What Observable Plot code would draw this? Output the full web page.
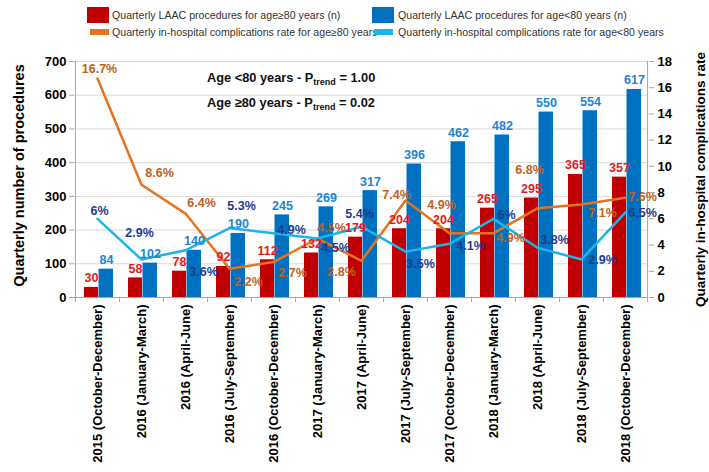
<!DOCTYPE html>
<html><head><meta charset="utf-8">
<script src="https://cdn.jsdelivr.net/npm/d3@7"></script>
<script src="https://cdn.jsdelivr.net/npm/@observablehq/plot@0.6"></script>
<style>
body{margin:0;background:#fff;font-family:"Liberation Sans",Arial,sans-serif;}
#wrap{position:relative;width:709px;height:472px;overflow:hidden;}
#legend{position:relative;height:48px;}
.sw{position:absolute;}
.lt{position:absolute;font-family:"Liberation Sans",Arial,sans-serif;font-size:10.6px;color:#333;white-space:nowrap;line-height:12px;}
.ann{position:absolute;font-weight:bold;font-size:12.8px;color:#111;white-space:nowrap;font-family:"Liberation Sans",Arial,sans-serif;line-height:16px;}
.ann sub{font-size:9px;vertical-align:-3px;line-height:0;}
</style></head><body>
<div id="wrap">
<div id="legend"></div>
<div id="chart"></div>
</div>
<script>
// ---- data ----
const categories = ["2015 (October-December)","2016 (January-March)","2016 (April-June)","2016 (July-September)","2016 (October-December)","2017 (January-March)","2017 (April-June)","2017 (July-September)","2017 (October-December)","2018 (January-March)","2018 (April-June)","2018 (July-September)","2018 (October-December)"];
const procAge80plus = [30,58,78,92,112,132,179,204,204,265,295,365,357];
const procAgeUnder80 = [84,102,140,190,245,269,317,396,462,482,550,554,617];
const rateAge80plus = [16.7,8.6,6.4,2.2,2.7,4.5,2.8,7.4,4.9,4.9,6.8,7.1,7.6];
const rateAgeUnder80 = [6,2.9,3.6,5.3,4.9,4.5,5.4,3.5,4.1,6,3.8,2.9,6.5];
const leftTicks = [0,100,200,300,400,500,600,700];
const rightTicks = [0,2,4,6,8,10,12,14,16,18];
const legendLabels = ["Quarterly LAAC procedures for age\u226580 years (n)","Quarterly LAAC procedures for age<80 years (n)","Quarterly in-hospital complications rate for age\u226580 years","Quarterly in-hospital complications rate for age<80 years"];
const leftTitle = "Quarterly number of procedures";
const rightTitle = "Quarterly in-hospital complications rate";
const pTrendLines = [["Age <80 years - P","trend"," = 1.00"],["Age \u226580 years - P","trend"," = 0.02"]];

// ---- label layout (pixel nudges) ----
const oldRateLabelOffset = [[2,-10],[18,-12],[16,-11],[19,13],[19,11],[14,-11],[-20,11],[-9,-5],[-8,-28],[17,5],[-8,-38],[21,9],[17,-1]];
const youngRateLabelOffset = [[2,-8],[-2,-26],[18,22],[12,-22],[18,-3],[18,9],[-2,-13],[15,12],[21,2],[13,-4],[17,-8],[21,1],[17,1]];

// ---- colours ----
const C = {redBar:"#c00000", blueBar:"#0070c0", orange:"#e8731e", lightBlue:"#1cb4ec",
  redText:"#e31b23", blueText:"#2185d0", orangeText:"#c2611d", navyText:"#1f3b8f", axis:"#a6a6a6", grid:"#d9d9d9"};

// ---- legend ----
const legend = document.getElementById("legend");
const legendItems = [
  {label:legendLabels[0], color:C.redBar, x:87, textX:112, big:true, row:0},
  {label:legendLabels[1], color:C.blueBar, x:372, textX:398, big:true, row:0},
  {label:legendLabels[2], color:C.orange, x:90, textX:112, big:false, row:1},
  {label:legendLabels[3], color:C.lightBlue, x:374, textX:398, big:false, row:1}
];
for (const it of legendItems) {
  const sw = document.createElement("div");
  sw.className = "sw";
  const cy = it.row === 0 ? 15 : 32;
  const h = it.big ? 16 : 6;
  const w = it.big ? 22 : 19;
  Object.assign(sw.style, {left: it.x+"px", top:(cy-h/2)+"px", width:w+"px", height:h+"px", background:it.color});
  legend.appendChild(sw);
  const t = document.createElement("div");
  t.className = "lt";
  t.textContent = it.label;
  Object.assign(t.style, {left:it.textX+"px", top:(cy-6)+"px"});
  legend.appendChild(t);
}

// ---- chart ----
const W = 709, H = 424, mL = 74, mR = 61, mT = 13, mB = 175;
const yMax = 700, rMax = 18, k = yMax / rMax;
const bw = (W - mL - mR) / categories.length;
const pxToY = yMax / (H - mT - mB);
const rows = categories.map((c,i)=>({cat:c, old:procAge80plus[i], young:procAgeUnder80[i], rOld:rateAge80plus[i], rYoung:rateAgeUnder80[i], i}));
const fmtPct = v => v + "%";
const lab = {fontWeight:"bold", fontSize:12.5, fontFamily:"Liberation Sans, Arial, sans-serif"};

const rateLabels = [];
rows.forEach((r,i)=>{
  rateLabels.push(Plot.text([r], {x:"cat", y:d=>d.rOld*k, text:d=>fmtPct(d.rOld), dx:oldRateLabelOffset[i][0], dy:oldRateLabelOffset[i][1], fill:C.orangeText, ...lab}));
  rateLabels.push(Plot.text([r], {x:"cat", y:d=>d.rYoung*k, text:d=>fmtPct(d.rYoung), dx:youngRateLabelOffset[i][0], dy:youngRateLabelOffset[i][1], fill:C.navyText, ...lab}));
});

const chart = Plot.plot({
  width: W, height: H,
  marginLeft: mL, marginRight: mR, marginTop: mT, marginBottom: mB,
  style: {fontFamily:"Liberation Sans, Arial, sans-serif", fontSize:"12px", color:"#000", background:"#fff", overflow:"visible"},
  x: {type:"band", domain: categories, padding: 0},
  y: {domain:[0, yMax]},
  marks: [
    Plot.gridY(leftTicks, {stroke:C.grid, strokeOpacity:1}),
    Plot.barY(rows, {x:"cat", y:"old", fill:C.redBar, insetLeft:9, insetRight:21}),
    Plot.barY(rows, {x:"cat", y:"young", fill:C.blueBar, insetLeft:23.5, insetRight:6}),
    Plot.ruleY([0], {stroke:C.axis}),
    Plot.ruleX([categories[0]], {dx:-bw/2, y1:0, y2:yMax, stroke:C.axis}),
    Plot.ruleX([categories[categories.length-1]], {dx:bw/2, y1:0, y2:yMax, stroke:C.axis}),
    Plot.ruleX(categories, {dx:-bw/2, y1:0, y2:-5*pxToY, stroke:C.axis, clip:false}),
    Plot.ruleX([categories[categories.length-1]], {dx:bw/2, y1:0, y2:-5*pxToY, stroke:C.axis}),
    Plot.line(rows, {x:"cat", y:d=>d.rOld*k, stroke:C.orange, strokeWidth:2.5}),
    Plot.line(rows, {x:"cat", y:d=>d.rYoung*k, stroke:C.lightBlue, strokeWidth:2.5}),
    Plot.text(rows, {x:"cat", y:"old", text:d=>String(d.old), dx:-6, dy:-9, fill:C.redText, ...lab}),
    Plot.text(rows, {x:"cat", y:"young", text:d=>String(d.young), dx:9, dy:-9, fill:C.blueText, ...lab}),
    ...rateLabels,
    Plot.axisY(leftTicks, {anchor:"left", tickSize:5, tickPadding:3, stroke:C.axis, fontWeight:"bold", fontSize:13, label:null, fill:"#000"}),
    Plot.axisY(rightTicks.map(t=>t*k), {anchor:"right", tickSize:5, tickPadding:4, stroke:C.axis, tickFormat:d=>String(Math.round(d/k)), fontWeight:"bold", fontSize:13, label:null, fill:"#000"}),
    Plot.axisX({tickRotate:-90, tickSize:0, tickPadding:7, fontWeight:"bold", fontSize:13, label:null, fill:"#000"}),
    Plot.text([leftTitle], {frameAnchor:"left", textAnchor:"middle", text:d=>d, rotate:-90, dx:-55, dy:-4, fontWeight:"bold", fontSize:14.5, fill:"#000"}),
    Plot.text([rightTitle], {frameAnchor:"right", textAnchor:"middle", text:d=>d, rotate:-90, dx:52, dy:0, fontWeight:"bold", fontSize:13.5, fill:"#000"})
  ]
});
document.getElementById("chart").appendChild(chart);

// ---- P-trend annotations ----
const wrap = document.getElementById("wrap");
pTrendLines.forEach((parts,j)=>{
  const d = document.createElement("div");
  d.className = "ann";
  d.append(parts[0]);
  const s = document.createElement("sub"); s.textContent = parts[1]; d.appendChild(s);
  d.append(parts[2]);
  Object.assign(d.style, {left:"207px", top:(70 + j*25)+"px"});
  wrap.appendChild(d);
});
</script>
</body></html>
